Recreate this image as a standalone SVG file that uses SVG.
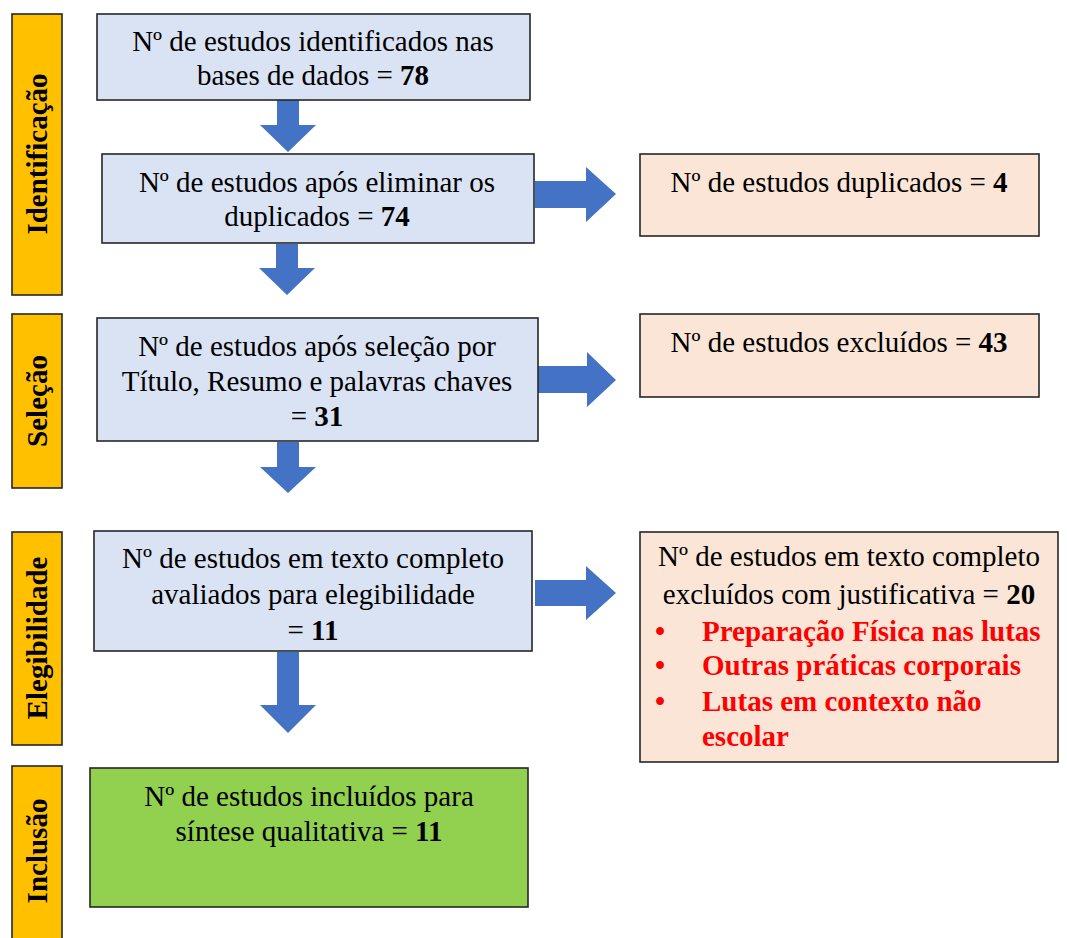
<svg xmlns="http://www.w3.org/2000/svg" width="1067" height="938" viewBox="0 0 1067 938" font-family="'Liberation Serif', Tinos, 'DejaVu Serif', serif">
<style>
.box{stroke:#262626;stroke-width:1.6}
.blue{fill:#DAE3F3}
.peach{fill:#FBE5D6}
.green{fill:#92D050}
.stage{fill:#FFC000;stroke:#262626;stroke-width:1.6}
text{font-family:'Liberation Serif', Tinos, 'DejaVu Serif', serif;font-size:29px}
.t{fill:#000;text-anchor:middle}
.b{font-weight:bold}
.red{font-weight:bold;fill:#FF0000}
.lab{font-weight:bold;fill:#000;text-anchor:middle}
.arr{fill:#4472C4}
</style>
<rect width="1067" height="938" fill="#FFFFFF"/>

<g id="stage-identificacao">
<rect class="stage" x="12" y="14" width="50" height="281"/>
<text class="lab" transform="translate(47,154) rotate(-90)">Identificação</text>
</g>
<g id="stage-selecao">
<rect class="stage" x="12" y="314" width="50" height="174"/>
<text class="lab" transform="translate(47,401) rotate(-90)">Seleção</text>
</g>
<g id="stage-elegibilidade">
<rect class="stage" x="12" y="532" width="50" height="213"/>
<text class="lab" transform="translate(47,638) rotate(-90)">Elegibilidade</text>
</g>
<g id="stage-inclusao">
<rect class="stage" x="12" y="766" width="50" height="180"/>
<text class="lab" transform="translate(47,851) rotate(-90)">Inclusão</text>
</g>

<g id="connectors">
<polygon class="arr" points="277,100 299,100 299,125 316,125 288,152 260,125 277,125"/>
<polygon class="arr" points="276,244 298,244 298,268 315,268 287,295 259,268 276,268"/>
<polygon class="arr" points="277,442 299,442 299,467 316,467 288,493 260,467 277,467"/>
<polygon class="arr" points="277,652 299,652 299,705 316,705 288,733 260,705 277,705"/>
<polygon class="arr" points="535,181 586,181 586,167 616,194 586,222 586,208 535,208"/>
<polygon class="arr" points="538,366 587,366 587,352 616,380 587,407 587,393 538,393"/>
<polygon class="arr" points="535,580 586,580 586,566 616,593 586,620 586,606 535,606"/>
</g>

<g id="n1">
<rect class="box blue" x="97" y="14" width="433" height="86"/>
<text class="t" x="313" y="51">Nº de estudos identificados nas</text>
<text class="t" x="313" y="85">bases de dados = <tspan class="b">78</tspan></text>
</g>
<g id="n2">
<rect class="box blue" x="102" y="154" width="432" height="89"/>
<text class="t" x="317" y="192">Nº de estudos após eliminar os</text>
<text class="t" x="317" y="226">duplicados = <tspan class="b">74</tspan></text>
</g>
<g id="n-dup">
<rect class="box peach" x="640" y="154" width="399" height="82"/>
<text class="t" x="839" y="192">Nº de estudos duplicados = <tspan class="b">4</tspan></text>
</g>
<g id="n3">
<rect class="box blue" x="97" y="318" width="441" height="123"/>
<text class="t" x="317" y="356">Nº de estudos após seleção por</text>
<text class="t" x="317" y="391">Título, Resumo e palavras chaves</text>
<text class="t" x="317" y="426">= <tspan class="b">31</tspan></text>
</g>
<g id="n-excl">
<rect class="box peach" x="640" y="314" width="399" height="83"/>
<text class="t" x="839" y="352">Nº de estudos excluídos = <tspan class="b">43</tspan></text>
</g>
<g id="n4">
<rect class="box blue" x="94" y="531" width="438" height="120"/>
<text class="t" x="313" y="568">Nº de estudos em texto completo</text>
<text class="t" x="313" y="604">avaliados para elegibilidade</text>
<text class="t" x="313" y="640">= <tspan class="b">11</tspan></text>
</g>
<g id="n-just">
<rect class="box peach" x="640" y="532" width="418" height="230"/>
<text class="t" x="849" y="566">Nº de estudos em texto completo</text>
<text class="t" x="849" y="604">excluídos com justificativa = <tspan class="b">20</tspan></text>
<text class="red" x="655" y="641">•</text>
<text class="red" x="702" y="641">Preparação Física nas lutas</text>
<text class="red" x="655" y="675">•</text>
<text class="red" x="702" y="675">Outras práticas corporais</text>
<text class="red" x="655" y="711">•</text>
<text class="red" x="702" y="711">Lutas em contexto não</text>
<text class="red" x="702" y="746">escolar</text>
</g>
<g id="n5">
<rect class="box green" x="90" y="768" width="438" height="139"/>
<text class="t" x="309" y="806">Nº de estudos incluídos para</text>
<text class="t" x="309" y="841">síntese qualitativa = <tspan class="b">11</tspan></text>
</g>
</svg>
